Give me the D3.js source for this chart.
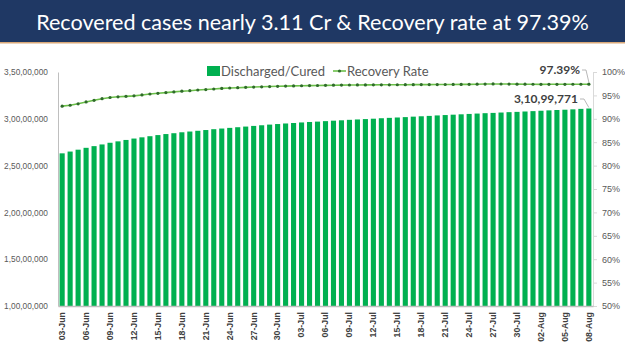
<!DOCTYPE html>
<html>
<head>
<meta charset="utf-8">
<script src="https://cdn.jsdelivr.net/npm/d3@7/dist/d3.min.js"></script>
<style>
  body { margin: 0; background: #fff; }
  svg { display: block; }
</style>
</head>
<body>
<svg id="chart"></svg>
<script>
// dates shown on the x axis (every day, 03-Jun to 08-Aug)
const dates = [
  "03-Jun","04-Jun","05-Jun","06-Jun","07-Jun","08-Jun","09-Jun","10-Jun","11-Jun","12-Jun",
  "13-Jun","14-Jun","15-Jun","16-Jun","17-Jun","18-Jun","19-Jun","20-Jun","21-Jun","22-Jun",
  "23-Jun","24-Jun","25-Jun","26-Jun","27-Jun","28-Jun","29-Jun","30-Jun",
  "01-Jul","02-Jul","03-Jul","04-Jul","05-Jul","06-Jul","07-Jul","08-Jul","09-Jul","10-Jul",
  "11-Jul","12-Jul","13-Jul","14-Jul","15-Jul","16-Jul","17-Jul","18-Jul","19-Jul","20-Jul",
  "21-Jul","22-Jul","23-Jul","24-Jul","25-Jul","26-Jul","27-Jul","28-Jul","29-Jul","30-Jul","31-Jul",
  "01-Aug","02-Aug","03-Aug","04-Aug","05-Aug","06-Aug","07-Aug","08-Aug"
];

// discharged/cured, cumulative
const cured = [
  26310000,26500000,26700000,26900000,27080000,27260000,27440000,27590000,27740000,27890000,
  28020000,28140000,28260000,28370000,28460000,28560000,28640000,28720000,28800000,28890000,
  28960000,29030000,29100000,29170000,29240000,29310000,29380000,29440000,
  29500000,29550000,29610000,29660000,29700000,29750000,29800000,29840000,29890000,29930000,
  29970000,30010000,30060000,30100000,30140000,30180000,30230000,30270000,30310000,30360000,
  30400000,30440000,30480000,30520000,30560000,30600000,30630000,30670000,30710000,30740000,30780000,
  30820000,30860000,30900000,30940000,30970000,31010000,31060000,31099771
];

// recovery rate, %
const rate = [
  92.7,92.9,93.2,93.6,93.95,94.3,94.55,94.7,94.8,94.9,
  95.1,95.3,95.45,95.6,95.75,95.9,96.0,96.15,96.25,96.37,
  96.5,96.58,96.65,96.72,96.78,96.84,96.89,96.94,
  96.99,97.03,97.06,97.09,97.12,97.15,97.18,97.2,97.22,97.23,
  97.24,97.25,97.26,97.27,97.28,97.29,97.3,97.31,97.31,97.32,
  97.33,97.34,97.35,97.36,97.39,97.42,97.45,97.44,97.42,97.4,97.39,
  97.38,97.36,97.37,97.37,97.37,97.38,97.38,97.39
];

const leftTicks = [10000000,15000000,20000000,25000000,30000000,35000000];
const rightTicks = [50,55,60,65,70,75,80,85,90,95,100];

const w = 625, h = 351;
const plotL = 58, plotR = 593, plotT = 72, plotB = 306;

const svg = d3.select('#chart').attr('width', w).attr('height', h);

// title banner
svg.append('rect').attr('x', 0).attr('y', 0).attr('width', w).attr('height', 42).attr('fill', '#1f3864');
svg.append('rect').attr('x', 0).attr('y', 42).attr('width', w).attr('height', 1.5).attr('fill', '#d9a878');
const title = svg.append('text')
  .attr('x', w / 2).attr('y', 30)
  .attr('text-anchor', 'middle')
  .attr('fill', '#fff')
  .style('font-family', 'Lato, "Open Sans", sans-serif')
  .style('font-size', '24px')
  .text('Recovered cases nearly 3.11 Cr & Recovery rate at 97.39%');
const tw = title.node().getComputedTextLength();
title.style('font-size', (24 * 553 / tw) + 'px');

const xScale = d3.scaleBand().domain(dates).range([plotL, plotR]).paddingInner(0.36).paddingOuter(0.2);
const yLeft = d3.scaleLinear().domain([10000000, 35000000]).range([plotB, plotT]);
const yRight = d3.scaleLinear().domain([50, 100]).range([plotB, plotT]);

const indian = d3.formatLocale({ decimal: '.', thousands: ',', grouping: [3, 2, 2, 2, 2, 2], currency: ['', ''] }).format(',');

const font = '"Liberation Sans", Arial, sans-serif';

// bars
svg.append('g').selectAll('rect')
  .data(cured)
  .enter()
  .append('rect')
  .attr('x', (d, i) => xScale(dates[i]))
  .attr('y', d => yLeft(d))
  .attr('width', xScale.bandwidth())
  .attr('height', d => plotB - yLeft(d))
  .attr('fill', '#00b050');

// recovery rate line
const line = d3.line()
  .x((d, i) => xScale(dates[i]) + xScale.bandwidth() / 2)
  .y(d => yRight(d));
svg.append('path')
  .datum(rate)
  .attr('d', line)
  .attr('fill', 'none')
  .attr('stroke', '#6cc04a')
  .attr('stroke-width', 1.6);
svg.append('g').selectAll('circle')
  .data(rate)
  .enter()
  .append('circle')
  .attr('cx', (d, i) => xScale(dates[i]) + xScale.bandwidth() / 2)
  .attr('cy', d => yRight(d))
  .attr('r', 1.6)
  .attr('fill', '#2f6b2a');

// left axis
const yAxisL = d3.axisLeft(yLeft).tickValues(leftTicks).tickSize(0).tickPadding(10).tickFormat(indian);
const gl = svg.append('g').attr('transform', `translate(${plotL},0)`).call(yAxisL);
gl.select('.domain').attr('stroke', '#bfbfbf');
gl.selectAll('text').attr('fill', '#595959').style('font-family', font).style('font-size', '9px');
// shrink tick labels so the widest one fits the margin
const maxW = d3.max(gl.selectAll('text').nodes(), n => n.getComputedTextLength());
if (maxW > 44) gl.selectAll('text').style('font-size', (9 * 44 / maxW) + 'px');

// right axis
const yAxisR = d3.axisRight(yRight).tickValues(rightTicks).tickSize(4).tickPadding(5).tickFormat(d => d + '%');
const gr = svg.append('g').attr('transform', `translate(${plotR},0)`).call(yAxisR);
gr.select('.domain').attr('stroke', '#d9d9d9');
gr.selectAll('line').attr('stroke', '#d9d9d9');
gr.selectAll('text').attr('fill', '#595959').style('font-family', font).style('font-size', '9px');

// bottom axis
const xAxis = d3.axisBottom(xScale).tickValues(dates.filter((d, i) => i % 3 === 0)).tickSize(0).tickPadding(6);
const gx = svg.append('g').attr('transform', `translate(0,${plotB})`).call(xAxis);
gx.select('.domain').attr('stroke', '#bfbfbf').attr('stroke-width', 1.5);
gx.selectAll('text')
  .attr('fill', '#404040')
  .style('font-family', font).style('font-size', '8.8px').style('font-weight', 'bold')
  .attr('text-anchor', 'end')
  .attr('transform', 'rotate(-90)')
  .attr('x', -6).attr('y', 0).attr('dy', '0.32em');

// legend
svg.append('rect').attr('x', 207).attr('y', 66).attr('width', 13).attr('height', 10).attr('fill', '#00b050');
svg.append('text').attr('x', 221).attr('y', 75.5).text('Discharged/Cured')
  .attr('fill', '#595959').style('font-family', 'Lato, sans-serif').style('font-size', '13px');
svg.append('line').attr('x1', 333).attr('x2', 346).attr('y1', 71).attr('y2', 71)
  .attr('stroke', '#6cc04a').attr('stroke-width', 1.6);
svg.append('circle').attr('cx', 339.5).attr('cy', 71).attr('r', 1.6).attr('fill', '#2f6b2a');
svg.append('text').attr('x', 347).attr('y', 75.5).text('Recovery Rate')
  .attr('fill', '#595959').style('font-family', 'Lato, sans-serif').style('font-size', '13px');

// data labels on last point
const last = dates.length - 1;
const lx = xScale(dates[last]) + xScale.bandwidth() / 2;
svg.append('text').attr('x', 580).attr('y', 74).attr('text-anchor', 'end')
  .text(rate[last].toFixed(2) + '%')
  .attr('fill', '#404040').style('font-family', 'Lato, sans-serif').style('font-size', '12px').style('font-weight', 'bold');
svg.append('polyline')
  .attr('points', `582,70 586,70 ${lx},${yRight(rate[last]) - 2}`)
  .attr('fill', 'none').attr('stroke', '#a6a6a6').attr('stroke-width', 0.8);
svg.append('text').attr('x', 578).attr('y', 103).attr('text-anchor', 'end')
  .text(indian(cured[last]))
  .attr('fill', '#404040').style('font-family', 'Lato, sans-serif').style('font-size', '12px').style('font-weight', 'bold');
svg.append('polyline')
  .attr('points', `580,99 584,99 ${lx},${yLeft(cured[last]) - 1}`)
  .attr('fill', 'none').attr('stroke', '#a6a6a6').attr('stroke-width', 0.8);
</script>
</body>
</html>
